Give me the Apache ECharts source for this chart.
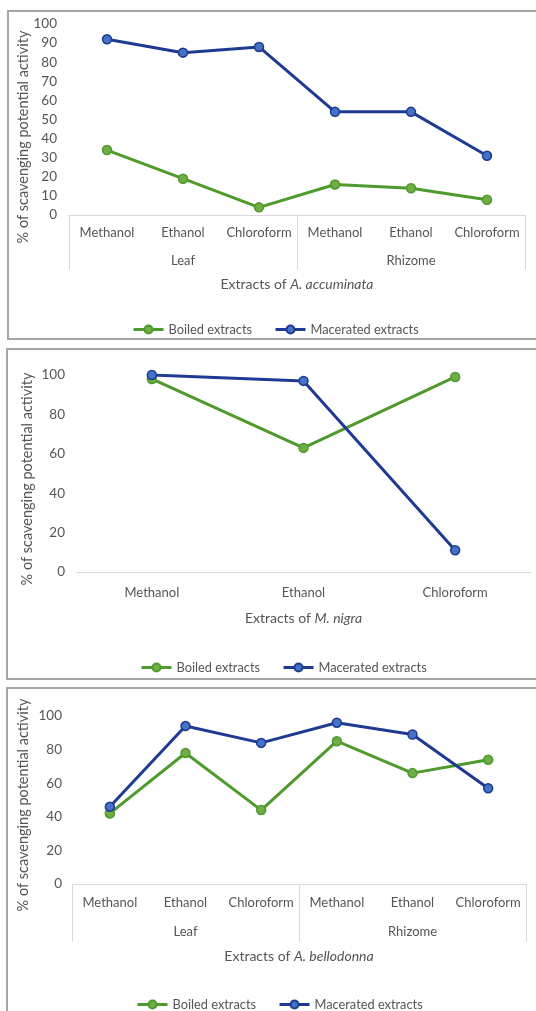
<!DOCTYPE html>
<html>
<head>
<meta charset="utf-8">
<script src="https://cdn.jsdelivr.net/npm/echarts@6/dist/echarts.min.js"></script>
<style>
html,body{margin:0;padding:0;background:#fff;}
#c{width:536px;height:1011px;}
</style>
</head>
<body>
<div id="c"></div>
<script>
// ---- data ----
const solvents6 = ['Methanol', 'Ethanol', 'Chloroform', 'Methanol', 'Ethanol', 'Chloroform'];
const solvents3 = ['Methanol', 'Ethanol', 'Chloroform'];
const parts = ['Leaf', 'Rhizome'];
const seriesNames = ['Boiled extracts', 'Macerated extracts'];

const accBoiled = [34, 19, 4, 16, 14, 8];
const accMacerated = [92, 85, 88, 54, 54, 31];

const nigraBoiled = [98, 63, 99];
const nigraMacerated = [100, 97, 11];

const bellBoiled = [42, 78, 44, 85, 66, 74];
const bellMacerated = [46, 94, 84, 96, 89, 57];

const yTitle = '% of scavenging potential activity';

// ---- styles ----
const FONT = 'Lato, "Open Sans", sans-serif';
const TXT = '#555555';
const AXIS = '#d9d9d9';
const GREEN = '#4f9a2c', GREEN_FILL = '#70ad47';
const BLUE = '#1f3a93', BLUE_FILL = '#4472c4';

function nameRich(plain, ital) {
  return {
    name: '{a|' + plain + '}{b|' + ital + '}',
    nameTextStyle: {
      rich: {
        a: { fontFamily: FONT, fontSize: 14, color: TXT },
        b: { fontFamily: FONT, fontSize: 14, color: TXT, fontStyle: 'italic' }
      }
    }
  };
}

function yAxis(grid, interval, margin) {
  return {
    type: 'value', gridIndex: grid, min: 0, max: 100, interval: interval,
    axisLine: { show: false }, axisTick: { show: false }, splitLine: { show: false },
    axisLabel: { color: TXT, fontFamily: FONT, fontSize: 13.5, margin: margin }
  };
}

function lineSeries(name, data, grid, xIdx, color, fill) {
  return {
    type: 'line', name: name, data: data, xAxisIndex: xIdx, yAxisIndex: grid,
    symbol: 'circle', symbolSize: 9,
    lineStyle: { color: color, width: 3 },
    itemStyle: { color: fill, borderColor: color, borderWidth: 1.5 },
    emphasis: { disabled: true }, animation: false, z: name === seriesNames[1] ? 3 : 2
  };
}

function legend(left, top) {
  return {
    data: seriesNames, left: left, top: top, itemWidth: 30, itemHeight: 10, itemGap: 22,
    lineStyle: { width: 3 },
    textStyle: { color: TXT, fontFamily: FONT, fontSize: 12.8 }, selectedMode: false
  };
}

function yTitleText(x, y) {
  return {
    type: 'text', x: x, y: y, rotation: Math.PI / 2,
    style: { text: yTitle, fill: TXT, font: '14.5px ' + FONT, align: 'center', verticalAlign: 'middle' }
  };
}

function border(x, y, w, h) {
  return { type: 'rect', shape: { x: x, y: y, width: w, height: h },
    style: { fill: 'none', stroke: '#a6a6a6', lineWidth: 2 }, silent: true };
}

const option = {
  backgroundColor: '#fff',
  animation: false,
  grid: [
    { left: 69, right: 11, top: 24, height: 191 },
    { left: 76, right: 5, top: 375, height: 197 },
    { left: 72, right: 10, top: 716, height: 168 }
  ],
  xAxis: [
    // panel 1: solvent level
    { type: 'category', gridIndex: 0, position: 'bottom', data: solvents6, boundaryGap: true,
      axisLine: { show: false }, axisTick: { show: false },
      axisLabel: { color: TXT, fontFamily: FONT, fontSize: 13, margin: 11, interval: 0 } },
    // panel 1: part level
    Object.assign({ type: 'category', gridIndex: 0, position: 'bottom', data: parts, boundaryGap: true,
      axisLine: { show: true, lineStyle: { color: AXIS, width: 1 } },
      axisTick: { show: true, interval: 0, length: 55, lineStyle: { color: AXIS } },
      axisLabel: { color: TXT, fontFamily: FONT, fontSize: 13, margin: 39, interval: 0 },
      nameLocation: 'middle', nameGap: 62 }, nameRich('Extracts of ', 'A. accuminata')),
    // panel 2
    Object.assign({ type: 'category', gridIndex: 1, position: 'bottom', data: solvents3, boundaryGap: true,
      axisLine: { show: true, lineStyle: { color: AXIS, width: 1 } },
      axisTick: { show: false },
      axisLabel: { color: TXT, fontFamily: FONT, fontSize: 13, margin: 14, interval: 0 },
      nameLocation: 'middle', nameGap: 39 }, nameRich('Extracts of ', 'M. nigra')),
    // panel 3: solvent level
    { type: 'category', gridIndex: 2, position: 'bottom', data: solvents6, boundaryGap: true,
      axisLine: { show: false }, axisTick: { show: false },
      axisLabel: { color: TXT, fontFamily: FONT, fontSize: 13, margin: 12, interval: 0 } },
    // panel 3: part level
    Object.assign({ type: 'category', gridIndex: 2, position: 'bottom', data: parts, boundaryGap: true,
      axisLine: { show: true, lineStyle: { color: AXIS, width: 1 } },
      axisTick: { show: true, interval: 0, length: 58, lineStyle: { color: AXIS } },
      axisLabel: { color: TXT, fontFamily: FONT, fontSize: 13, margin: 41, interval: 0 },
      nameLocation: 'middle', nameGap: 65 }, nameRich('Extracts of ', 'A. bellodonna'))
  ],
  yAxis: [ yAxis(0, 10, 12), yAxis(1, 20, 11), yAxis(2, 20, 10) ],
  legend: [ legend(127, 318), legend(135, 656), legend(131, 993) ],
  series: [
    lineSeries(seriesNames[0], accBoiled, 0, 0, GREEN, GREEN_FILL),
    lineSeries(seriesNames[1], accMacerated, 0, 0, BLUE, BLUE_FILL),
    lineSeries(seriesNames[0], nigraBoiled, 1, 2, GREEN, GREEN_FILL),
    lineSeries(seriesNames[1], nigraMacerated, 1, 2, BLUE, BLUE_FILL),
    lineSeries(seriesNames[0], bellBoiled, 2, 3, GREEN, GREEN_FILL),
    lineSeries(seriesNames[1], bellMacerated, 2, 3, BLUE, BLUE_FILL)
  ],
  graphic: [
    border(8, 11, 540, 328),
    border(7, 349, 540, 330),
    border(7, 688, 540, 400),
    yTitleText(23, 137),
    yTitleText(27, 479),
    yTitleText(23, 805)
  ]
};

const chart = echarts.init(document.getElementById('c'), null, { renderer: 'canvas' });
chart.setOption(option);
</script>
</body>
</html>
